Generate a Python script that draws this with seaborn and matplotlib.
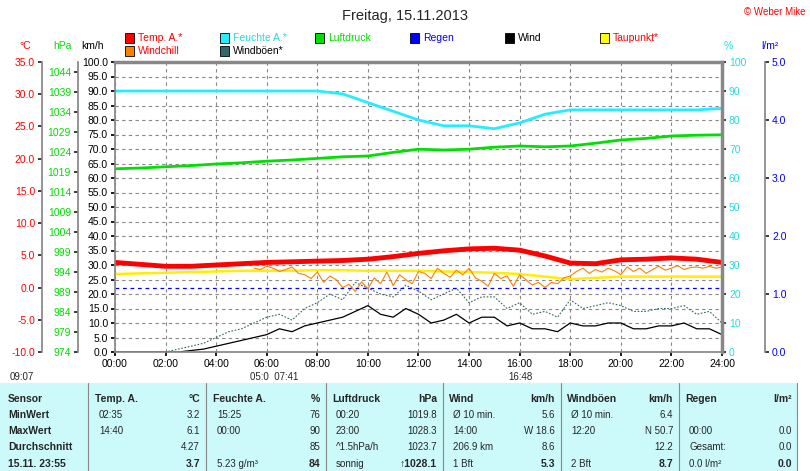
import numpy as np
import pandas as pd
import matplotlib
matplotlib.use("Agg")
import matplotlib.pyplot as plt
import seaborn as sns

sns.set_theme(style="white")
plt.rcParams['font.family'] = ['Liberation Sans', 'DejaVu Sans']

# hourly data (hour of day)
hours = np.arange(0, 25)
temp_c = [3.9, 3.6, 3.3, 3.3, 3.5, 3.7, 3.9, 4.0, 4.1, 4.2, 4.4, 4.8, 5.3, 5.7, 6.0, 6.1, 5.8, 4.9, 3.8, 3.7, 4.3, 4.4, 4.6, 4.4, 3.9]
humidity = [90, 90, 90, 90, 90, 90, 90, 90, 90, 89, 86, 83, 80, 78, 78, 77, 79, 82, 83.5, 83.5, 83.5, 83.5, 83.5, 83.5, 84]
pressure = [1019.8, 1020.0, 1020.3, 1020.6, 1021.0, 1021.3, 1021.7, 1022.0, 1022.4, 1022.8, 1023.0, 1023.9, 1024.7, 1024.5, 1024.7, 1025.2, 1025.5, 1025.3, 1025.5, 1026.2, 1027.0, 1027.4, 1028.0, 1028.2, 1028.3]
dewpoint = [2.1, 2.2, 2.3, 2.4, 2.5, 2.6, 2.6, 2.6, 2.7, 2.7, 2.6, 2.6, 2.6, 2.5, 2.4, 2.3, 2.1, 1.7, 1.3, 1.5, 1.7, 1.7, 1.7, 1.7, 1.7]

# half-hourly wind data
half = np.arange(0, 24.5, 0.5)
wind = [0, 0, 0, 0, 0, 0, 0.5, 1, 2, 3, 4, 5, 6, 8, 7, 9, 10, 11, 12, 14, 16, 13, 12, 15, 13, 10, 11, 13, 10, 12, 12, 9, 10, 8, 8, 7, 10, 9, 9, 10, 10, 8, 8, 9, 9, 10, 8, 8, 6]
gusts = [0, 0, 0, 0, 0, 1, 2, 3, 5, 7, 8, 10, 12, 13, 11, 15, 17, 20, 18, 24, 22, 20, 19, 23, 21, 18, 20, 22, 17, 19, 19, 15, 17, 13, 14, 12, 18, 15, 16, 17, 16, 14, 14, 15, 15, 16, 13, 14, 10]
chill_t = np.arange(5.5, 24.25, 0.25)
windchill = [3.0, 2.8, 3.3, 3.0, 2.5, 2.8, 3.2, 2.2, 2.0, 1.4, 2.4, 0.8, 1.8, 1.2, 0.0, 0.5, -0.6, 0.9, -0.2, 1.5, 0.6, 2.4, 0.3, 2.0, 1.2, 0.6, 2.5, 2.2, 1.4, 3.0, 2.2, 1.6, 2.7, 2.0, 3.0, 1.5, 1.0, 0.2, 2.2, 1.4, 1.8, 0.2, 2.0, 1.2, 0.4, 0.8, 0.0, 0.8, 0.6, 1.5, 1.8, 2.5, 3.0, 2.2, 2.8, 2.4, 3.0, 2.6, 2.0, 3.2, 2.5, 3.0, 2.2, 2.8, 3.3, 2.7, 3.0, 3.4, 2.8, 3.1, 3.2, 3.0, 3.3, 3.0, 3.2]
chill_t = chill_t[:len(windchill)]

# axis conversions to main km/h scale (0..100)
def c2v(c): return (np.asarray(c) + 10) / 0.45
def h2v(h): return (np.asarray(h) - 974) / 0.725

fig = plt.figure(figsize=(8.1, 4.71), dpi=100)
ax = fig.add_axes([115/810, 1-352/471, 607/810, 290/471])

df = pd.DataFrame({"h": hours, "t": c2v(temp_c), "rh": humidity, "p": h2v(pressure), "d": c2v(dewpoint)})
sns.lineplot(data=df, x="h", y="p", color="#00e000", lw=2, ax=ax)
sns.lineplot(data=df, x="h", y="rh", color="#22eeff", lw=2, ax=ax)
sns.lineplot(data=df, x="h", y="d", color="#ffee00", lw=1.8, ax=ax)
ax.plot(half, gusts, color="#336666", lw=0.8, ls=(0, (1.5, 1.5)))
ax.plot(half, wind, color="black", lw=0.9)
ax.plot(chill_t, c2v(windchill), color="#ff8000", lw=0.8)
sns.lineplot(data=df, x="h", y="t", color="#ff0000", lw=3.5, ax=ax)
ax.axhline(c2v(0), color="blue", lw=0.9, ls=(0, (3, 3)))

ax.set_xlim(0, 24)
ax.set_ylim(0, 100)
ax.set_xticks(range(0, 25, 2))
ax.set_xticklabels([f"{h:02d}:00" for h in range(0, 25, 2)], fontsize=7.5)
ax.set_yticks(np.arange(0, 101, 5))
ax.set_yticklabels([f"{v:.1f}" for v in np.arange(0, 101, 5)], fontsize=7.5)
ax.set_xlabel("")
ax.set_ylabel("")
ax.grid(True, color="#888888", ls=(0, (3, 3)), lw=0.8)
for s in ["top", "right"]:
    ax.spines[s].set_color("#888888")
    ax.spines[s].set_linewidth(2.5)
for s in ["left", "bottom"]:
    ax.spines[s].set_color("#888888")
ax.tick_params(axis="both", length=3, pad=2, colors="black", left=True, bottom=True, direction="out")

# right humidity axis
ax_r = ax.secondary_yaxis("right")
ax_r.set_yticks(range(0, 101, 10))
ax_r.set_yticklabels([str(v) for v in range(0, 101, 10)], fontsize=7.5, color="#22dddd")
ax_r.tick_params(length=3, pad=2)

# rain axis
ax_rain = ax.secondary_yaxis((765 - 115) / 607, functions=(lambda v: v / 20, lambda r: r * 20))
ax_rain.set_yticks(np.arange(0, 5.1, 1))
ax_rain.set_yticklabels([f"{v:.1f}" for v in np.arange(0, 5.1, 1)], fontsize=7.5, color="blue")
ax_rain.tick_params(length=3, pad=2)
ax_rain.spines["right"].set_color("#888888")

# pressure axis
ax_p = ax.secondary_yaxis((78 - 115) / 607, functions=(lambda v: 974 + 0.725 * v, lambda h: (h - 974) / 0.725))
ax_p.set_yticks(range(974, 1045, 5))
ax_p.set_yticklabels([str(v) for v in range(974, 1045, 5)], fontsize=7.5, color="#00dd00")
ax_p.tick_params(length=3, pad=2)
ax_p.spines["left"].set_color("#888888")

# temperature axis
ax_t = ax.secondary_yaxis((42 - 115) / 607, functions=(lambda v: v * 0.45 - 10, lambda c: (c + 10) / 0.45))
ax_t.set_yticks(np.arange(-10, 36, 5))
ax_t.set_yticklabels([f"{v:.1f}" for v in np.arange(-10, 36, 5)], fontsize=7.5, color="red")
ax_t.tick_params(length=3, pad=2)
ax_t.spines["left"].set_color("#888888")

# titles and unit labels
fig.text(0.5, 1-16/471, "Freitag, 15.11.2013", ha="center", va="center", fontsize=10.5)
fig.text(806/810, 1-12/471, "© Weber Mike", ha="right", va="center", fontsize=7, color="red")
for x, t, c in [(25, "°C", "red"), (62, "hPa", "#00dd00"), (93, "km/h", "black"), (728, "%", "#22dddd"), (770, "l/m²", "blue")]:
    fig.text(x/810, 1-46/471, t, ha="center", va="center", fontsize=7.5, color=c)

legend = [(125, 38, "#ff0000", "Temp. A.*", "red"), (220, 38, "#22eeff", "Feuchte A.*", "#22dddd"),
          (315, 38, "#00e000", "Luftdruck", "#00dd00"), (410, 38, "#0000ff", "Regen", "blue"),
          (505, 38, "#000000", "Wind", "black"), (600, 38, "#ffff00", "Taupunkt*", "red"),
          (125, 51, "#ff8000", "Windchill", "red"), (220, 51, "#336666", "Windböen*", "black")]
for x, y, fc, t, tc in legend:
    fig.patches.append(plt.Rectangle((x/810, 1-(y+5)/471), 9/810, 10/471, transform=fig.transFigure,
                                     facecolor=fc, edgecolor="black", lw=0.6))
    fig.text((x+13)/810, 1-y/471, t, ha="left", va="center", fontsize=7.5, color=tc)

# sun markers
fig.text(10/810, 1-377/471, "09:07", fontsize=7, va="center")
fig.text(250/810, 1-377/471, "05:0  07:41", fontsize=7, va="center")
fig.text(508/810, 1-377/471, "16:48", fontsize=7, va="center")

# table
fig.patches.append(plt.Rectangle((0, 0), 797/810, 1-383/471, transform=fig.transFigure,
                                 facecolor="#ccf9f9", edgecolor="none"))
for xs in [88, 206, 326, 443, 561, 679, 797]:
    fig.add_artist(plt.Line2D([xs/810]*2, [0, 1-383/471], color="#888888", lw=0.8, transform=fig.transFigure))
rows_y = [399, 415, 431, 447, 464]
labels = ["Sensor", "MinWert", "MaxWert", "Durchschnitt", "15.11. 23:55"]
for y, t in zip(rows_y, labels):
    fig.text(8/810, 1-y/471, t, fontsize=7.5, weight="bold", va="center")
cols = [
    (95, 200, ["Temp. A.", "02:35", "14:40", "", ""], ["°C", "3.2", "6.1", "4.27", "3.7"]),
    (213, 320, ["Feuchte A.", "15:25", "00:00", "", "5.23 g/m³"], ["%", "76", "90", "85", "84"]),
    (332, 437, ["Luftdruck", "00:20", "23:00", "^1.5hPa/h", "sonnig"], ["hPa", "1019.8", "1028.3", "1023.7", "↑1028.1"]),
    (449, 555, ["Wind", "Ø 10 min.", "14:00", "206.9 km", "1 Bft"], ["km/h", "5.6", "W 18.6", "8.6", "5.3"]),
    (567, 673, ["Windböen", "Ø 10 min.", "12:20", "", "2 Bft"], ["km/h", "6.4", "N 50.7", "12.2", "8.7"]),
    (685, 792, ["Regen", "", "00:00", "Gesamt:", "0.0 l/m²"], ["l/m²", "", "0.0", "0.0", "0.0"]),
]
for xl, xr, left, right in cols:
    for i, (y, lt, rt) in enumerate(zip(rows_y, left, right)):
        bold = i == 0 or i == 4
        fig.text((xl + (0 if i == 0 else 4))/810, 1-y/471, lt, fontsize=7.5 if i == 0 else 7,
                 weight="bold" if i == 0 else "normal", va="center")
        fig.text(xr/810, 1-y/471, rt, fontsize=7.5 if bold else 7,
                 weight="bold" if bold else "normal", va="center", ha="right")

fig.savefig("out.png", dpi=100, facecolor="white")
